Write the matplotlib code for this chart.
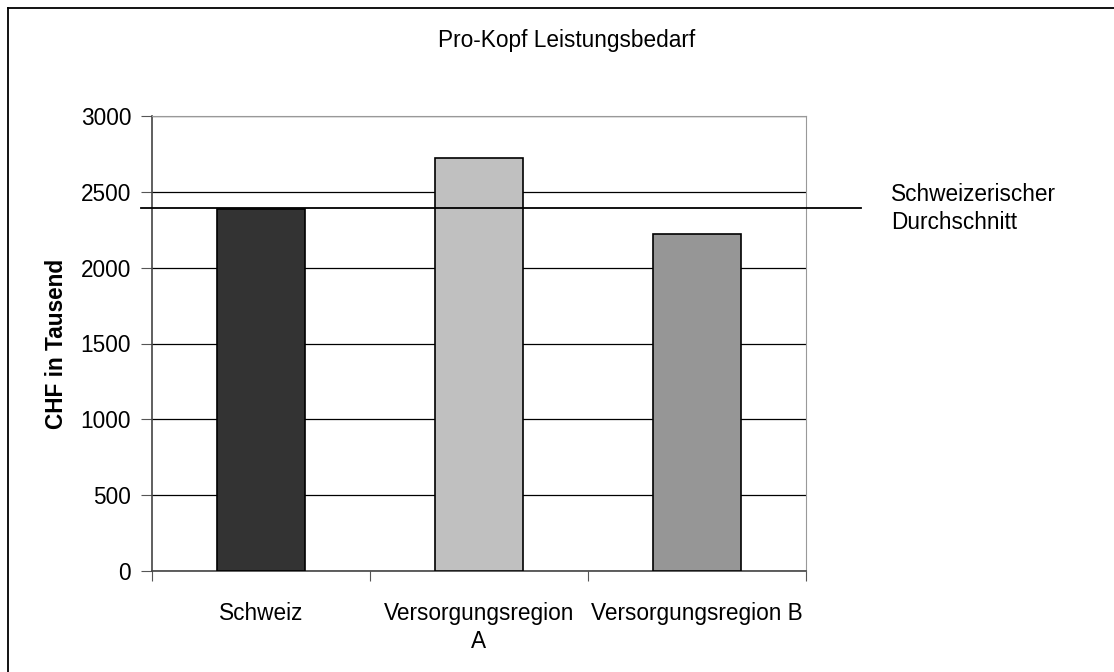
import matplotlib.pyplot as plt
from matplotlib.lines import Line2D

plt.rcParams["font.family"] = ["Liberation Sans", "DejaVu Sans"]

categories = ["Schweiz", "Versorgungsregion\nA", "Versorgungsregion B"]
values = [2385, 2722, 2222]
colors = ["#333333", "#c0c0c0", "#969696"]
average = 2392
average_label = "Schweizerischer\nDurchschnitt"

fig = plt.figure(figsize=(11.14, 6.72), dpi=100)
W, H = 1114, 672
fs = 16.3

# chart frame: only the top and left edges fall inside the picture
fig.lines.append(Line2D([8 / W, 1], [1 - 7.5 / H, 1 - 7.5 / H], transform=fig.transFigure,
                        color="black", linewidth=1.3))
fig.lines.append(Line2D([8 / W, 8 / W], [0, 1 - 7.5 / H], transform=fig.transFigure,
                        color="black", linewidth=1.3))

ax = fig.add_axes([152 / W, 1 - 571 / H, (806 - 152) / W, (571 - 116) / H])

x = list(range(len(categories)))
ax.bar(x, values, width=0.4, color=colors, edgecolor="black", linewidth=1.2, zorder=3)

ax.set_xlim(-0.5, 2.5)
ax.set_ylim(0, 3000)
ax.set_yticks(range(0, 3001, 500))
ax.yaxis.grid(True, color="black", linewidth=0.9, zorder=0)
ax.set_axisbelow(True)

ax.set_xticks([-0.5, 0.5, 1.5, 2.5])
ax.set_xticklabels([])
ax.set_xticks(x, minor=True)
ax.set_xticklabels(categories, minor=True, fontsize=fs, linespacing=1.3)
ax.tick_params(axis="x", which="minor", length=0, pad=22)
ax.tick_params(axis="x", which="major", direction="out", length=7, color="#555555")
ax.tick_params(axis="y", direction="out", length=8, color="#555555", labelsize=fs, pad=7)

for side in ["top", "right"]:
    ax.spines[side].set_color("#999999")
for side in ["left", "bottom"]:
    ax.spines[side].set_color("#444444")
    ax.spines[side].set_linewidth(1.2)

ax.set_ylabel("CHF in Tausend", fontsize=fs, fontweight="bold", labelpad=9)

# average line reaching past the plot area
ax.plot([-0.55, 2.75], [average, average], color="black", linewidth=1.3,
        clip_on=False, zorder=4)
ax.text(2.89, average, average_label, fontsize=fs, va="center", ha="left",
        linespacing=1.3)

fig.text(567 / W, 1 - 40 / H, "Pro-Kopf Leistungsbedarf", fontsize=fs,
         ha="center", va="center")

fig.savefig("out.png", dpi=100)
